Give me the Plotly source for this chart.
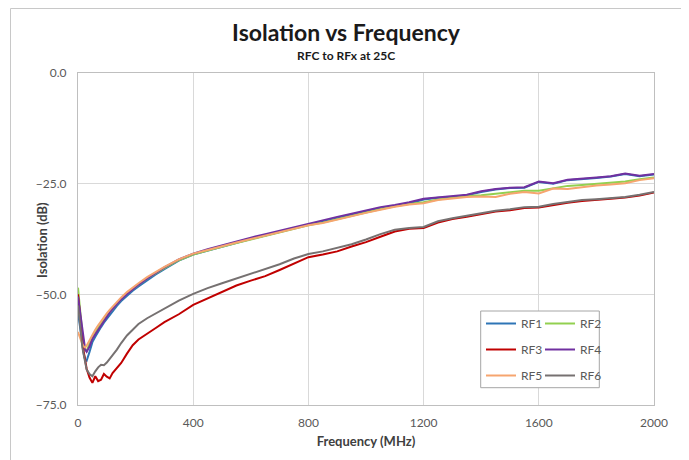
import plotly.graph_objects as go

# ---------------- data ----------------
freq_mhz = [0, 5, 10, 15, 20, 25, 30, 40, 50, 60, 70, 80, 90, 100, 110, 120, 135, 150, 170, 190,
            210, 240, 270, 300, 350, 400, 450, 500, 550, 600, 650, 700, 750, 800, 850, 900, 950,
            1000, 1050, 1100, 1150, 1200, 1250, 1300, 1350, 1400, 1450, 1500, 1550, 1600, 1650,
            1700, 1750, 1800, 1850, 1900, 1950, 2000]

rf1 = [-54.0, -56.5, -59.0, -61.5, -63.5, -64.8, -65.0, -63.0, -60.8, -59.6, -58.4, -57.4, -56.4,
       -55.5, -54.6, -53.8, -52.6, -51.5, -50.3, -49.2, -48.2, -46.8, -45.5, -44.3, -42.4,
       -41.0, -40.1, -39.2, -38.3, -37.5, -36.7, -35.9, -35.0, -34.3, -33.6, -32.8, -32.1,
       -31.3, -30.6, -30.0, -29.5, -28.6, -28.2, -28.0, -27.6, -26.9, -26.3, -26.0, -25.9,
       -24.6, -25.0, -24.2, -24.0, -23.7, -23.4, -22.8, -23.3, -22.9]

rf2 = [-48.5, -52.5, -56.0, -58.8, -61.0, -62.5, -62.8, -61.2, -59.6, -58.6, -57.6, -56.6, -55.7,
       -54.8, -54.0, -53.2, -52.1, -51.0, -49.8, -48.7, -47.8, -46.4, -45.2, -44.1, -42.3,
       -41.0, -40.1, -39.2, -38.4, -37.6, -36.8, -36.0, -35.2, -34.4, -33.8, -33.0, -32.3,
       -31.5, -30.8, -30.1, -29.6, -29.2, -28.6, -28.2, -27.8, -27.6, -27.3, -26.9, -26.6,
       -26.6, -26.0, -25.5, -25.3, -25.0, -24.8, -24.5, -24.0, -23.6]

rf3 = [-50.0, -54.0, -57.5, -60.0, -63.0, -65.5, -66.8, -68.8, -70.0, -68.5, -69.6, -69.3, -68.0,
       -68.6, -69.0, -67.8, -66.6, -65.5, -63.4, -61.5, -60.2, -58.8, -57.6, -56.3, -54.5,
       -52.4, -50.9, -49.4, -48.0, -46.9, -45.9, -44.5, -43.0, -41.6, -41.0, -40.3, -39.2,
       -38.2, -37.0, -35.8, -35.2, -35.0, -33.8, -33.0, -32.5, -31.9, -31.3, -31.0, -30.5,
       -30.4, -29.8, -29.3, -28.9, -28.7, -28.4, -28.1, -27.7, -27.0]

rf4 = [-50.5, -53.0, -56.0, -58.5, -61.0, -62.5, -63.0, -61.8, -60.0, -59.0, -57.8, -56.8, -55.9,
       -55.0, -54.1, -53.3, -52.2, -51.1, -49.9, -48.8, -47.8, -46.4, -45.1, -43.9, -42.1,
       -40.8, -39.8, -38.9, -38.0, -37.2, -36.4, -35.6, -34.8, -34.0, -33.3, -32.5, -31.8,
       -31.0, -30.3, -29.8, -29.2, -28.4, -28.1, -27.9, -27.5, -26.7, -26.2, -25.9, -25.8,
       -24.5, -24.9, -24.1, -23.9, -23.6, -23.3, -22.7, -23.2, -22.8]

rf5 = [-58.5, -59.5, -60.5, -61.2, -61.8, -62.0, -61.6, -60.3, -59.0, -58.0, -57.0, -56.0, -55.1,
       -54.3, -53.5, -52.8, -51.7, -50.7, -49.5, -48.4, -47.5, -46.1, -44.9, -43.8, -42.1,
       -40.8, -40.0, -39.1, -38.3, -37.5, -36.7, -35.9, -35.1, -34.4, -33.9, -33.1, -32.4,
       -31.6, -30.9, -30.2, -29.7, -29.4, -28.7, -28.3, -28.0, -27.9, -28.0, -27.3, -26.9,
       -27.2, -26.1, -26.2, -25.8, -25.4, -25.2, -24.9, -24.2, -23.8]

rf6 = [-52.5, -55.0, -58.5, -62.0, -64.0, -65.8, -67.0, -68.0, -68.5, -67.4, -66.5, -65.9, -66.0,
       -65.4, -64.6, -63.8, -62.5, -61.0, -59.3, -58.0, -56.7, -55.4, -54.3, -53.2, -51.4,
       -49.9, -48.6, -47.5, -46.4, -45.3, -44.3, -43.2, -41.9, -40.9, -40.3, -39.5, -38.7,
       -37.6, -36.4, -35.4, -35.0, -34.8, -33.5, -32.8, -32.3, -31.7, -31.1, -30.8, -30.3,
       -30.2, -29.6, -29.1, -28.7, -28.5, -28.2, -28.0, -27.5, -26.9]

series_names = ["RF1", "RF2", "RF3", "RF4", "RF5", "RF6"]
series_values = [rf1, rf2, rf3, rf4, rf5, rf6]
series_colors = ["#2E75B6", "#92D050", "#C00000", "#7030A0", "#F6A56F", "#767171"]

x_ticks = [0, 400, 800, 1200, 1600, 2000]
y_ticks = [0, -25, -50, -75]

# ---------------- layout geometry ----------------
# The page body has an 8px margin; window coordinates are converted to figure ones.
OFF = 8
W, H = 689 - OFF, 460 - OFF
PL, PR, PT, PB = 78 - OFF, 654 - OFF, 73 - OFF, 405 - OFF


def px_x(wx):
    return (wx - OFF - PL) / (PR - PL)


def px_y(wy):
    return (PB - (wy - OFF)) / (PB - PT)


FONT = "Lato, 'Open Sans', Arial, sans-serif"
TICK_COLOR = "#595959"
TITLE_COLOR = "#1a1a1a"
AXIS_TITLE_COLOR = "#404040"

fig = go.Figure()

legend_keys = ["legend", "legend2", "legend3", "legend4", "legend5", "legend6"]
col_px = [481, 540]
row_px = [323.5, 349.5, 375.5]

for i, (name, vals, col) in enumerate(zip(series_names, series_values, series_colors)):
    fig.add_trace(go.Scatter(
        x=freq_mhz, y=vals, mode="lines", name=name,
        line=dict(color=col, width=2),
        legend=legend_keys[i],
    ))

legend_layout = {}
for i, key in enumerate(legend_keys):
    c = i % 2
    r = i // 2
    legend_layout[key] = dict(
        x=px_x(col_px[c]), y=px_y(row_px[r]), xanchor="left", yanchor="middle",
        bgcolor="rgba(0,0,0,0)", borderwidth=0,
        font=dict(family=FONT, size=12, color=TICK_COLOR),
        itemwidth=30,
    )

fig.update_layout(
    width=W, height=H,
    margin=dict(l=PL, r=W - PR, t=PT, b=H - PB, autoexpand=False),
    paper_bgcolor="white", plot_bgcolor="white",
    showlegend=True,
    title=dict(text="<b>Isolation vs Frequency</b>", x=(346 - OFF) / W, xanchor="center",
               y=1 - (33 - OFF) / H, yanchor="middle",
               font=dict(family=FONT, size=23, color=TITLE_COLOR)),
    **legend_layout,
)

fig.update_xaxes(
    range=[0, 2000], tickvals=x_ticks, ticktext=[str(v) for v in x_ticks],
    showgrid=True, gridcolor="#d9d9d9", gridwidth=1.3,
    showline=True, linecolor="#bfbfbf", linewidth=1.3, mirror=True,
    zeroline=False, ticks="", ticklabelstandoff=6,
    tickfont=dict(family=FONT, size=12, color=TICK_COLOR),
    title=dict(text="<b>Frequency (MHz)</b>", standoff=8,
               font=dict(family=FONT, size=13, color=AXIS_TITLE_COLOR)),
)
fig.update_yaxes(
    range=[-75, 0], tickvals=y_ticks, tickformat=".1f",
    showgrid=True, gridcolor="#d9d9d9", gridwidth=1.3,
    showline=True, linecolor="#bfbfbf", linewidth=1.3, mirror=True,
    zeroline=False, ticks="", ticklabelstandoff=8,
    tickfont=dict(family=FONT, size=12, color=TICK_COLOR),
)

# y-axis title placed like the reference (close to the tick labels)
fig.add_annotation(
    text="<b>Isolation (dB)</b>", xref="paper", yref="paper",
    x=px_x(42), y=px_y(240), xanchor="center", yanchor="middle", textangle=-90,
    showarrow=False, font=dict(family=FONT, size=13, color=AXIS_TITLE_COLOR),
)

# subtitle
fig.add_annotation(
    text="<b>RFC to RFx at 25C</b>", xref="paper", yref="paper",
    x=px_x(346), y=px_y(55), xanchor="center", yanchor="middle", showarrow=False,
    font=dict(family=FONT, size=12, color=TITLE_COLOR),
)

# legend frame (white box with grey border)
fig.add_shape(
    type="rect", xref="paper", yref="paper",
    x0=px_x(480.7), x1=px_x(599.3), y0=px_y(387.7), y1=px_y(311),
    line=dict(color="#a6a6a6", width=1), fillcolor="white", layer="above",
)

# outer chart frame
fig.add_shape(
    type="rect", xref="paper", yref="paper",
    x0=px_x(10.5), x1=px_x(682.5), y0=px_y(480), y1=px_y(8.5),
    line=dict(color="#c8c8c8", width=1), fillcolor="rgba(0,0,0,0)", layer="below",
)

fig.write_html("out.html")
